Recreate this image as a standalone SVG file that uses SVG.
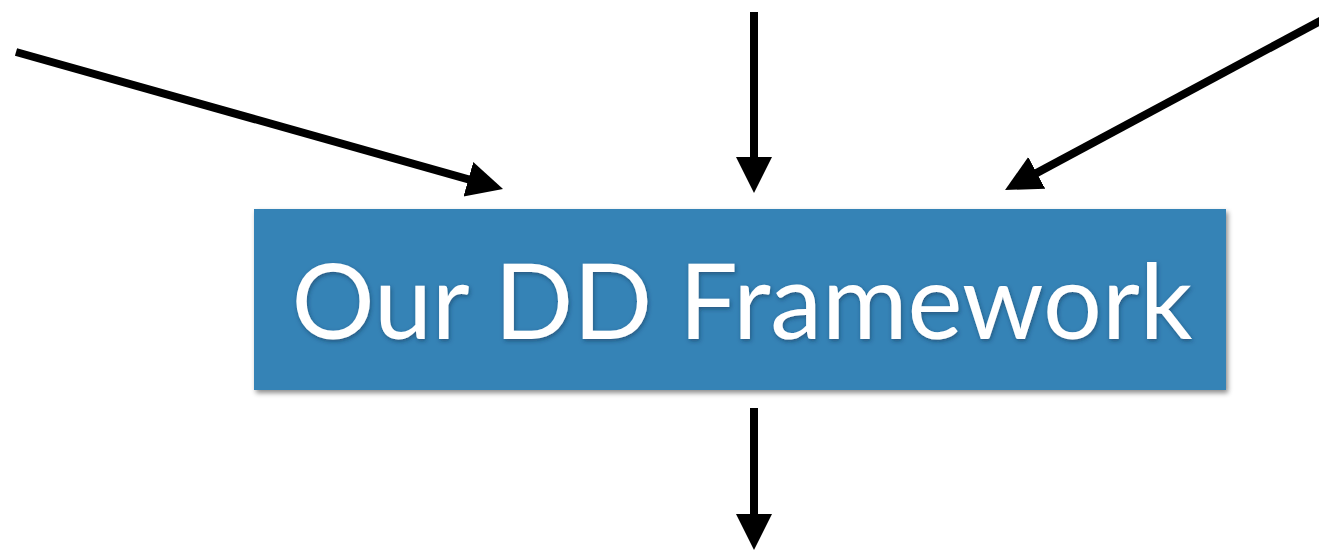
<svg xmlns="http://www.w3.org/2000/svg" width="1319" height="552" viewBox="0 0 1319 552">
  <style>
    .conn { stroke: #000; stroke-width: 8; fill: none; marker-end: url(#head); }
    .label { font-family: "Lato", "Open Sans", sans-serif; font-size: 104px; fill: #fff; }
  </style>
  <defs>
    <marker id="head" markerUnits="userSpaceOnUse" markerWidth="40" markerHeight="40" viewBox="0 -20 40 40" refX="2" refY="0" orient="auto">
      <path d="M0,-18 L36,0 L0,18 z" fill="#000"/>
    </marker>
    <filter id="boxShadow" x="-5%" y="-10%" width="110%" height="125%">
      <feDropShadow dx="2" dy="3" stdDeviation="2.5" flood-color="#000" flood-opacity="0.45"/>
    </filter>
    <filter id="textShadow" x="-5%" y="-20%" width="110%" height="140%">
      <feDropShadow dx="1" dy="2" stdDeviation="2" flood-color="#0a2a45" flood-opacity="0.5"/>
    </filter>
  </defs>

  <g id="connectors">
    <line class="conn" x1="16" y1="52" x2="470.3" y2="179.8"/>
    <line class="conn" x1="754" y1="12" x2="754" y2="159"/>
    <line class="conn" x1="1322" y1="20" x2="1035" y2="173.9"/>
    <line class="conn" x1="754" y1="408" x2="754" y2="516"/>
  </g>

  <g id="framework">
    <rect x="254" y="209" width="972" height="181" fill="#3683b6" filter="url(#boxShadow)"/>
    <text class="label" x="742" y="339" text-anchor="middle" filter="url(#textShadow)">Our DD Framework</text>
  </g>
</svg>
